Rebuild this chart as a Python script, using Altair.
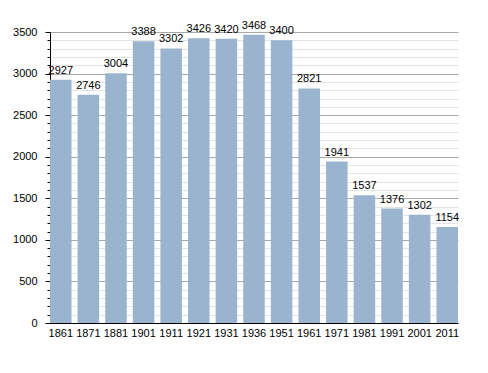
import altair as alt
import pandas as pd

years = ["1861", "1871", "1881", "1901", "1911", "1921", "1931", "1936",
         "1951", "1961", "1971", "1981", "1991", "2001", "2011"]
population = [2927, 2746, 3004, 3388, 3302, 3426, 3420, 3468,
              3400, 2821, 1941, 1537, 1376, 1302, 1154]
y_ticks = list(range(0, 3501, 100))

df = pd.DataFrame({"year": years, "pop": population})

FONT = "Liberation Sans"

x = alt.X("year:N", sort=None, title=None,
          scale=alt.Scale(paddingInner=0.22, paddingOuter=0.0),
          axis=alt.Axis(labelAngle=0, ticks=False, domainColor="black",
                        labelColor="black", labelFont=FONT, labelFontSize=11,
                        labelPadding=4))

y = alt.Y("pop:Q", title=None,
          scale=alt.Scale(domain=[0, 3500], nice=False, zero=True),
          axis=alt.Axis(values=y_ticks,
                        labelExpr="datum.value % 500 === 0 ? datum.label : ''",
                        labelOverlap=False,
                        format="d",
                        grid=True,
                        gridColor={"condition": {"test": "datum.value % 500 === 0", "value": "#a8a8a8"}, "value": "#e4e4e4"},
                        tickSize={"condition": {"test": "datum.value % 500 === 0", "value": 5}, "value": 3},
                        tickColor="black", domainColor="black",
                        labelColor="black", labelFont=FONT, labelFontSize=11,
                        labelPadding=8, labelBound=False))

bars = alt.Chart(df).mark_bar(color="#9ab4d0").encode(x=x, y=y)
labels = alt.Chart(df).mark_text(baseline="bottom", dy=-4, font=FONT,
                                 fontSize=11, color="black").encode(
    x=x, y=y, text="pop:Q")

chart = alt.layer(bars, labels).properties(
    width=408, height=291,
    autosize=alt.AutoSizeParams(type="none"),
    padding={"left": 42, "top": 24, "right": 10, "bottom": 30},
).configure_view(stroke=None).configure_axis(gridWidth=1)

chart.save("out.html", embed_options={"renderer": "svg", "actions": False})
